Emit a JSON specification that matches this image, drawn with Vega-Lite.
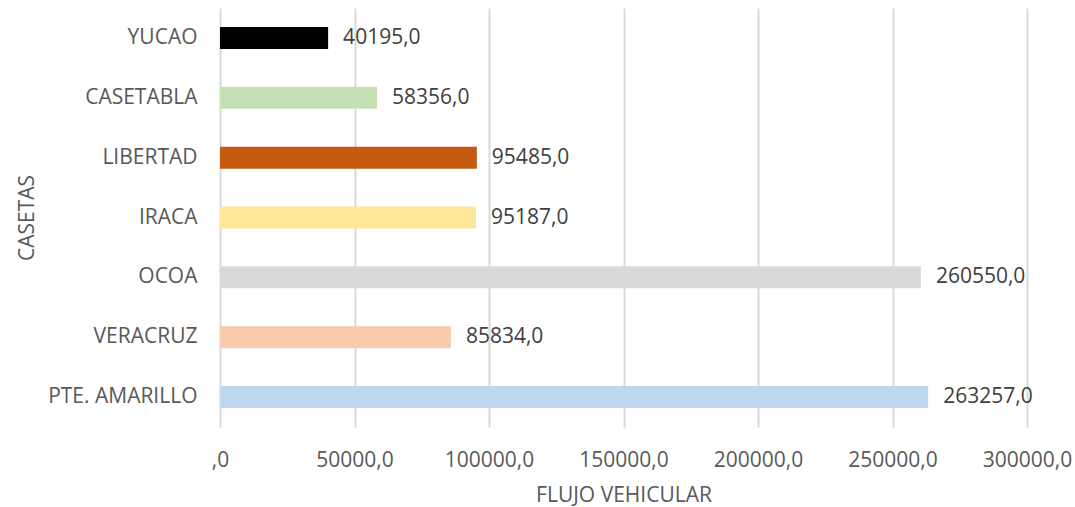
{
  "$schema": "https://vega.github.io/schema/vega-lite/v6.json",
  "width": 807,
  "height": 419,
  "autosize": {"type": "none"},
  "padding": {"left": 220, "top": 8, "right": 48, "bottom": 80},
  "background": "white",
  "config": {
    "view": {"stroke": null},
    "font": "Open Sans",
    "locale": {"number": {"decimal": ",", "thousands": "", "grouping": [3], "currency": ["", ""]}},
    "axis": {"labelFont": "Open Sans", "titleFont": "Open Sans", "labelColor": "#595959", "titleColor": "#595959", "labelFontSize": 21, "titleFontSize": 21, "titleFontWeight": "normal"}
  },
  "data": {
    "values": [
      {"caseta": "YUCAO", "flujo": 40195},
      {"caseta": "CASETABLA", "flujo": 58356},
      {"caseta": "LIBERTAD", "flujo": 95485},
      {"caseta": "IRACA", "flujo": 95187},
      {"caseta": "OCOA", "flujo": 260550},
      {"caseta": "VERACRUZ", "flujo": 85834},
      {"caseta": "PTE. AMARILLO", "flujo": 263257}
    ]
  },
  "encoding": {
    "y": {
      "field": "caseta",
      "type": "nominal",
      "sort": null,
      "title": "CASETAS",
      "scale": {"paddingInner": 0.633, "paddingOuter": 0.3165},
      "axis": {"domain": false, "ticks": false, "grid": false, "labelPadding": 23, "titlePadding": 10}
    },
    "x": {
      "field": "flujo",
      "type": "quantitative",
      "title": "FLUJO VEHICULAR",
      "scale": {"domain": [0, 300000], "nice": false},
      "axis": {
        "values": [0, 50000, 100000, 150000, 200000, 250000, 300000],
        "labelExpr": "datum.value == 0 ? ',0' : format(datum.value, 'd') + ',0'",
        "domain": false, "ticks": false, "grid": true, "gridColor": "#d9d9d9", "gridWidth": 2,
        "labelPadding": 22, "titlePadding": 14, "labelFlush": false
      }
    }
  },
  "layer": [
    {
      "mark": {"type": "bar"},
      "encoding": {
        "color": {
          "field": "caseta",
          "type": "nominal",
          "legend": null,
          "scale": {
            "domain": ["YUCAO", "CASETABLA", "LIBERTAD", "IRACA", "OCOA", "VERACRUZ", "PTE. AMARILLO"],
            "range": ["#000000", "#c5e0b4", "#c55a11", "#ffe699", "#d9d9d9", "#f8cbad", "#bdd7ee"]
          }
        }
      }
    },
    {
      "mark": {"type": "text", "align": "left", "dx": 15, "fontSize": 21, "color": "#404040", "font": "Open Sans"},
      "encoding": {
        "text": {"field": "flujo", "type": "quantitative", "format": ".1f"}
      }
    }
  ]
}
